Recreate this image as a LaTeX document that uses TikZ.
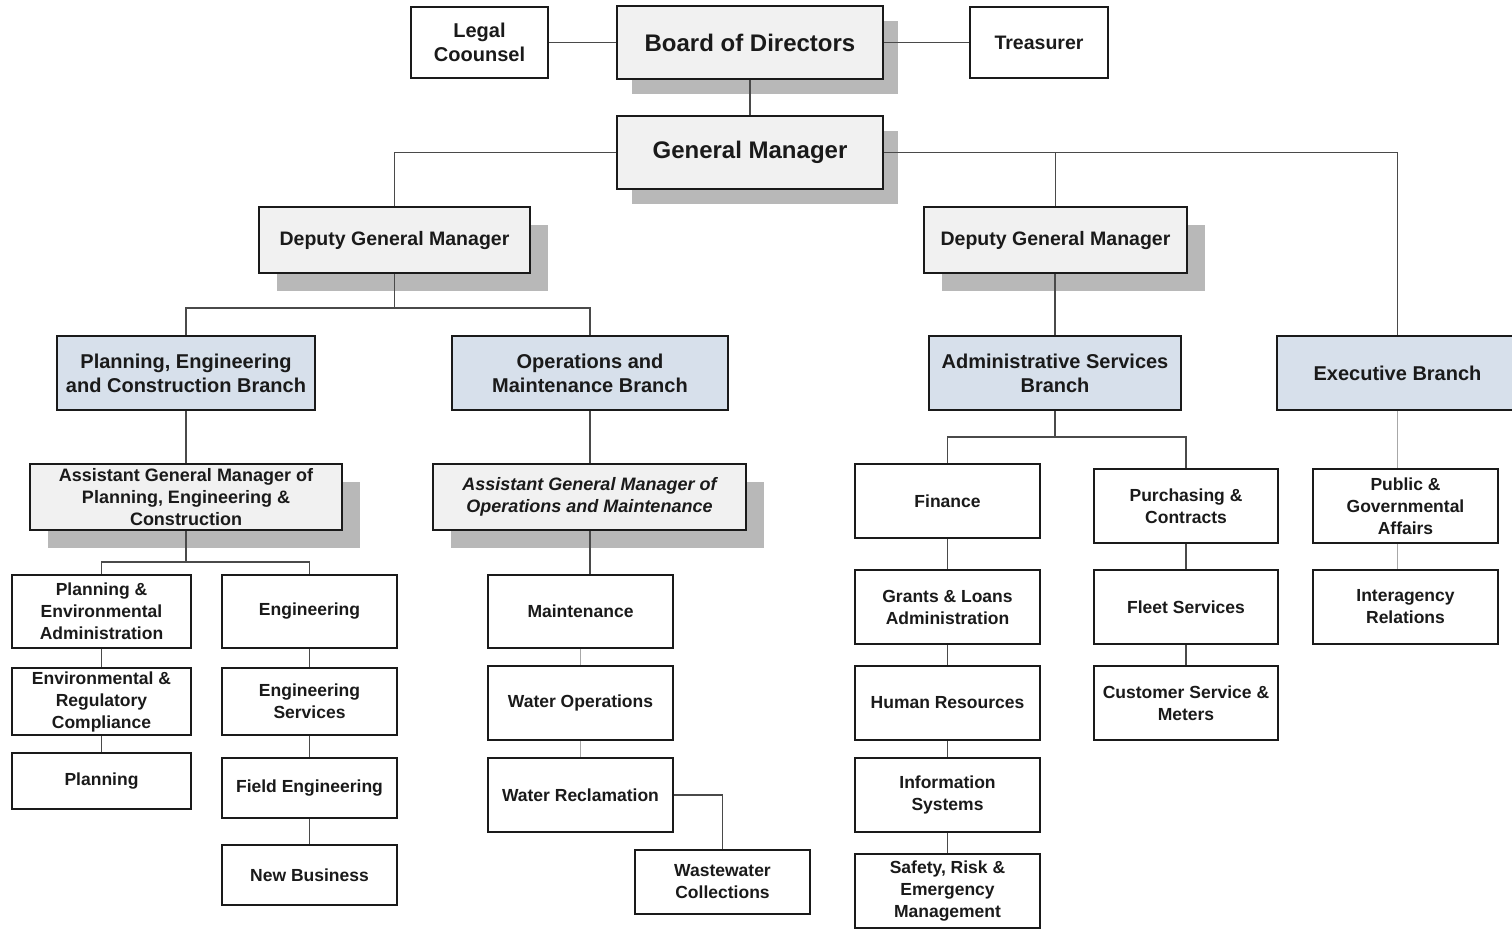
\documentclass[tikz,border=0pt]{standalone}
\usepackage{fontspec}
\setmainfont{Liberation Sans}
\usetikzlibrary{shadows}
\definecolor{boxc}{HTML}{1A1A1A}
\definecolor{greyfill}{HTML}{F1F1F1}
\definecolor{bluefill}{HTML}{D7E0EB}
\definecolor{shadowc}{HTML}{B8B8B8}
\definecolor{linec}{HTML}{4A4A4A}
\definecolor{lightline}{HTML}{A8A8A8}
\tikzset{
  boxsize/.style 2 args={minimum width=#1pt, minimum height=#2pt},
  box/.style={draw=boxc, line width=1.8pt, fill=white, inner sep=0pt, align=center,
    text=boxc, font=\bfseries\fontsize{17.5}{22}\selectfont},
  greybox/.style={box, fill=greyfill},
  bluebox/.style={box, fill=bluefill, font=\bfseries\fontsize{20}{24}\selectfont},
  shadowed/.style={drop shadow={shadow xshift=#1pt, shadow yshift=-#1pt, fill=shadowc, opacity=1, draw=none}},
  conn/.style={draw=linec, line width=1.3pt},
  lightconn/.style={draw=lightline, line width=1.5pt},
}
\begin{document}
\begin{tikzpicture}[x=1pt, y=-1pt]
\useasboundingbox[fill=white] (0,0) rectangle (1512,929);
% top level
\node[box, boxsize={137}{71}, font=\bfseries\fontsize{20}{24}\selectfont] (legal) at (479.5,42.5) {Legal\\Coounsel};
\node[greybox, shadowed=15, boxsize={266}{73}, font=\bfseries\fontsize{24}{28}\selectfont] (board) at (750,42.5) {Board of Directors};
\node[box, boxsize={138}{71}, font=\bfseries\fontsize{19.5}{24}\selectfont] (treas) at (1039,42.5) {Treasurer};
\node[greybox, shadowed=15, boxsize={266}{73}, font=\bfseries\fontsize{24}{28}\selectfont] (gm) at (750,152.5) {General Manager};
% deputies
\node[greybox, shadowed=18, boxsize={271}{66}, font=\bfseries\fontsize{19.5}{24}\selectfont] (dgmL) at (394.5,240) {Deputy General Manager};
\node[greybox, shadowed=18, boxsize={263}{66}, font=\bfseries\fontsize{19.5}{24}\selectfont] (dgmR) at (1055.5,240) {Deputy General Manager};
% branches
\node[bluebox, boxsize={258}{74}] (pec) at (186,373) {Planning, Engineering\\and Construction Branch};
\node[bluebox, boxsize={276}{74}] (om) at (590,373) {Operations and\\Maintenance Branch};
\node[bluebox, boxsize={252}{74}] (asb) at (1055,373) {Administrative Services\\Branch};
\node[bluebox, boxsize={241}{74}] (exec) at (1397.5,373) {Executive Branch};
% assistant GMs
\node[greybox, shadowed=18, boxsize={312}{66}, font=\bfseries\fontsize{18}{22}\selectfont] (agmP) at (186,497) {Assistant General Manager of\\Planning, Engineering \&\\Construction};
\node[greybox, shadowed=18, boxsize={313}{66}, font=\bfseries\itshape\fontsize{18}{22}\selectfont] (agmO) at (589.5,497) {Assistant General Manager of\\Operations and Maintenance};
% PEC units
\node[box, boxsize={179}{73}] (pea) at (101.5,611.5) {Planning \&\\Environmental\\Administration};
\node[box, boxsize={179}{67}] (erc) at (101.5,701.5) {Environmental \&\\Regulatory\\Compliance};
\node[box, boxsize={179}{56}] (plan) at (101.5,781) {Planning};
\node[box, boxsize={175}{73}] (eng) at (309.5,611.5) {Engineering};
\node[box, boxsize={175}{67}] (es) at (309.5,701.5) {Engineering\\Services};
\node[box, boxsize={175}{60}] (fe) at (309.5,788) {Field Engineering};
\node[box, boxsize={175}{60}] (nb) at (309.5,875) {New Business};
% O&M units
\node[box, boxsize={185}{73}] (maint) at (580.5,611.5) {Maintenance};
\node[box, boxsize={185}{74}] (wops) at (580.5,703) {Water Operations};
\node[box, boxsize={185}{74}] (wrec) at (580.5,795) {Water Reclamation};
\node[box, boxsize={175}{64}] (wwc) at (722.5,882) {Wastewater\\Collections};
% admin units
\node[box, boxsize={185}{74}] (fin) at (947.5,501) {Finance};
\node[box, boxsize={185}{74}] (gla) at (947.5,607) {Grants \& Loans\\Administration};
\node[box, boxsize={185}{74}] (hr) at (947.5,703) {Human Resources};
\node[box, boxsize={185}{74}] (is) at (947.5,795) {Information\\Systems};
\node[box, boxsize={185}{74}] (safe) at (947.5,891) {Safety, Risk \&\\Emergency\\Management};
\node[box, boxsize={184}{74}] (purch) at (1186,506) {Purchasing \&\\Contracts};
\node[box, boxsize={184}{74}] (fleet) at (1186,607) {Fleet Services};
\node[box, boxsize={184}{74}] (cust) at (1186,703) {Customer Service \&\\Meters};
% executive units
\node[box, boxsize={185}{74}] (pga) at (1405.5,506) {Public \&\\Governmental\\Affairs};
\node[box, boxsize={185}{74}] (inter) at (1405.5,607) {Interagency\\Relations};
% junctions
\coordinate (jL) at (394.5,308);
\coordinate (jP) at (186,562);
\coordinate (jA) at (1055,437);
% connectors
\draw[conn] (legal.east) -- (board.west);
\draw[conn] (treas.west) -- (board.east);
\draw[conn] (board.south) -- (gm.north);
\draw[conn] (gm.west) -| (dgmL.north);
\draw[conn] (gm.east) -| (exec.north);
\draw[conn] (dgmR.north) -- (dgmR.north |- gm.east);
\draw[conn] (dgmL.south) -- (jL);
\draw[conn] (pec.north) |- (jL) -| (om.north);
\draw[conn] (asb.north |- dgmR.south) -- (asb.north);
\draw[conn] (pec.south) -- (agmP.north);
\draw[conn] (om.south) -- (om.south |- agmO.north);
\draw[conn] (agmP.south) -- (jP);
\draw[conn] (pea.north) |- (jP) -| (eng.north);
\draw[conn] (pea.south) -- (erc.north);
\draw[conn] (erc.south) -- (plan.north);
\draw[conn] (eng.south) -- (es.north);
\draw[conn] (es.south) -- (fe.north);
\draw[conn] (fe.south) -- (nb.north);
\draw[conn] (om.south |- agmO.south) -- (om.south |- maint.north);
\draw[lightconn] (maint.south) -- (wops.north);
\draw[lightconn] (wops.south) -- (wrec.north);
\draw[conn] (wrec.east) -| (wwc.north);
\draw[conn] (asb.south) -- (jA);
\draw[conn] (fin.north) |- (jA) -| (purch.north);
\draw[conn] (fin.south) -- (gla.north);
\draw[conn] (gla.south) -- (hr.north);
\draw[conn] (hr.south) -- (is.north);
\draw[conn] (is.south) -- (safe.north);
\draw[conn] (purch.south) -- (fleet.north);
\draw[conn] (fleet.south) -- (cust.north);
\draw[lightconn] (exec.south) -- (exec.south |- pga.north);
\draw[lightconn] (exec.south |- pga.south) -- (exec.south |- inter.north);
\end{tikzpicture}
\end{document}
